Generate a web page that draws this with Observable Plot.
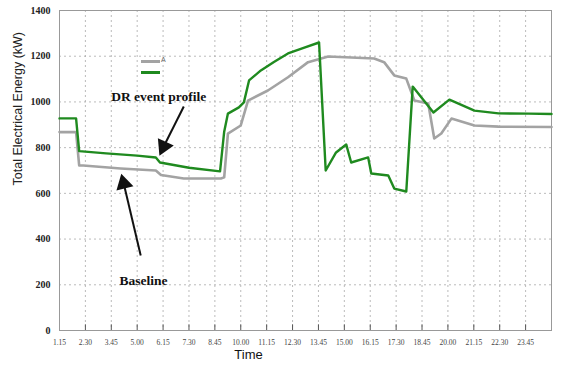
<!DOCTYPE html>
<html>
<head>
<meta charset="utf-8">
<script src="https://cdn.jsdelivr.net/npm/d3@7"></script>
<script src="https://cdn.jsdelivr.net/npm/@observablehq/plot@0.6"></script>
<style>
  html, body { margin: 0; padding: 0; background: #fff; }
  #wrap { position: relative; width: 563px; height: 373px; }
  .leg { position: absolute; height: 3px; }
  .legtxt { position: absolute; font: 7px "Liberation Sans", Arial, sans-serif; color: #666; }
</style>
</head>
<body>
<div id="wrap"></div>
<script>
// Time in decimal hours, values in kW
const drTime  = [1.25, 2.05, 2.2, 3.5, 5.0, 5.9, 6.1, 7.5, 9.0, 9.2, 9.38, 9.91, 10.15, 10.4, 10.97, 11.6, 12.28, 13.0, 13.78, 14.1, 14.6, 15.09, 15.33, 16.15, 16.3, 17.12, 17.41, 17.99, 18.3, 19.3, 20.07, 21.28, 22.44, 23.9, 25.0];
const drValue = [928, 928, 785, 775, 765, 757, 735, 712, 696, 870, 949, 976, 998, 1094, 1138, 1175, 1212, 1235, 1260, 700, 779, 814, 735, 757, 687, 678, 621, 608, 1067, 954, 1010, 962, 950, 949, 947];

const baseTime  = [1.25, 2.05, 2.2, 2.4, 4.2, 5.9, 6.15, 7.25, 9.04, 9.2, 9.38, 10.0, 10.35, 11.31, 12.28, 13.25, 14.22, 16.44, 16.92, 17.41, 17.99, 18.38, 19.05, 19.34, 19.68, 20.17, 21.28, 22.44, 25.0];
const baseValue = [868, 868, 722, 722, 709, 700, 680, 665, 665, 670, 861, 897, 1006, 1050, 1108, 1174, 1199, 1190, 1174, 1116, 1102, 1006, 993, 840, 862, 927, 897, 892, 890];

const xTickHours  = [1.25, 2.5, 3.75, 5, 6.25, 7.5, 8.75, 10, 11.25, 12.5, 13.75, 15, 16.25, 17.5, 18.75, 20, 21.25, 22.5, 23.75, 25];
const xTickLabels = ["1.15", "2.30", "3.45", "5.00", "6.15", "7.30", "8.45", "10.00", "11.15", "12.30", "13.45", "15.00", "16.15", "17.30", "18.45", "20.00", "21.15", "22.30", "23.45", ""];
const yTicks = [0, 200, 400, 600, 800, 1000, 1200, 1400];

// annotation anchors (data coordinates)
const annText  = ["DR event profile", "Baseline"];
const annTime  = [6.04, 5.31];
const annValue = [1024, 219];
const arrowFromT = [7.25, 5.17], arrowFromV = [980, 328];
const arrowToT   = [6.28, 4.35], arrowToV   = [805, 643];
const arrowRot   = [205, -14];

const dr = drTime.map((t, i) => ({t, v: drValue[i]}));
const base = baseTime.map((t, i) => ({t, v: baseValue[i]}));
const ann = annText.map((s, i) => ({s, t: annTime[i], v: annValue[i]}));
const arrows = arrowFromT.map((t, i) => ({t1: t, v1: arrowFromV[i], t2: arrowToT[i], v2: arrowToV[i], r: arrowRot[i]}));

const chart = Plot.plot({
  width: 563,
  height: 373,
  marginLeft: 59,
  marginRight: 12,
  marginTop: 10,
  marginBottom: 43,
  style: {background: "#fff"},
  x: {domain: [1.25, 25]},
  y: {domain: [0, 1400]},
  marks: [
    Plot.gridY(yTicks, {stroke: "#aaa", strokeOpacity: 0.8, strokeDasharray: "2,3"}),
    Plot.gridX(xTickHours, {stroke: "#aaa", strokeOpacity: 0.8, strokeDasharray: "2,3"}),
    Plot.ruleX(xTickHours, {y1: 0, y2: 25, stroke: "#555", strokeWidth: 1}),
    Plot.axisY(yTicks, {tickSize: 0, tickPadding: 9, fontSize: 10, fontWeight: "bold", fontFamily: "Liberation Serif, serif", fill: "#222", label: null,
      tickFormat: d => String(d)}),
    Plot.axisX(xTickHours, {tickSize: 0, tickPadding: 9, fontSize: 7.5, fontFamily: "Liberation Serif, serif", fill: "#444", label: null,
      tickFormat: (d) => xTickLabels[xTickHours.indexOf(d)]}),
    Plot.frame({stroke: "#999"}),
    Plot.line(base, {x: "t", y: "v", stroke: "#a3a3a3", strokeWidth: 2.6}),
    Plot.line(dr, {x: "t", y: "v", stroke: "#1f8a1f", strokeWidth: 2.4}),
    Plot.link(arrows, {x1: "t1", y1: "v1", x2: "t2", y2: "v2", stroke: "#111", strokeWidth: 2}),
    Plot.dot(arrows, {x: "t2", y: "v2", symbol: "triangle", r: 6.5, fill: "#111", rotate: "r"}),
    Plot.text(ann, {x: "t", y: "v", text: "s", fontSize: 13.5, fontWeight: "bold", fontFamily: "Liberation Serif, serif", fill: "#111"}),
    Plot.text(["Time"], {frameAnchor: "bottom", dx: -57, dy: 28, fontSize: 13, fontFamily: "Liberation Sans, Arial, sans-serif", fill: "#111"}),
    Plot.text(["Total Electrical Energy (kW)"], {frameAnchor: "left", dx: -42, dy: 15, rotate: -90, fontSize: 12.5, fontFamily: "Liberation Sans, Arial, sans-serif", fill: "#222"})
  ]
});
const wrap = document.getElementById("wrap");
wrap.appendChild(chart);

// legend overlay
const legend = [
  {color: "#a3a3a3", top: 60, label: "A"},
  {color: "#1f8a1f", top: 71, label: ""}
];
legend.forEach(l => {
  const d = document.createElement("div");
  d.className = "leg";
  d.style.left = "141px"; d.style.top = l.top + "px"; d.style.width = "19px"; d.style.background = l.color;
  wrap.appendChild(d);
  if (l.label) {
    const t = document.createElement("div");
    t.className = "legtxt";
    t.style.left = "161px"; t.style.top = (l.top - 4) + "px";
    t.textContent = l.label;
    wrap.appendChild(t);
  }
});
</script>
</body>
</html>
